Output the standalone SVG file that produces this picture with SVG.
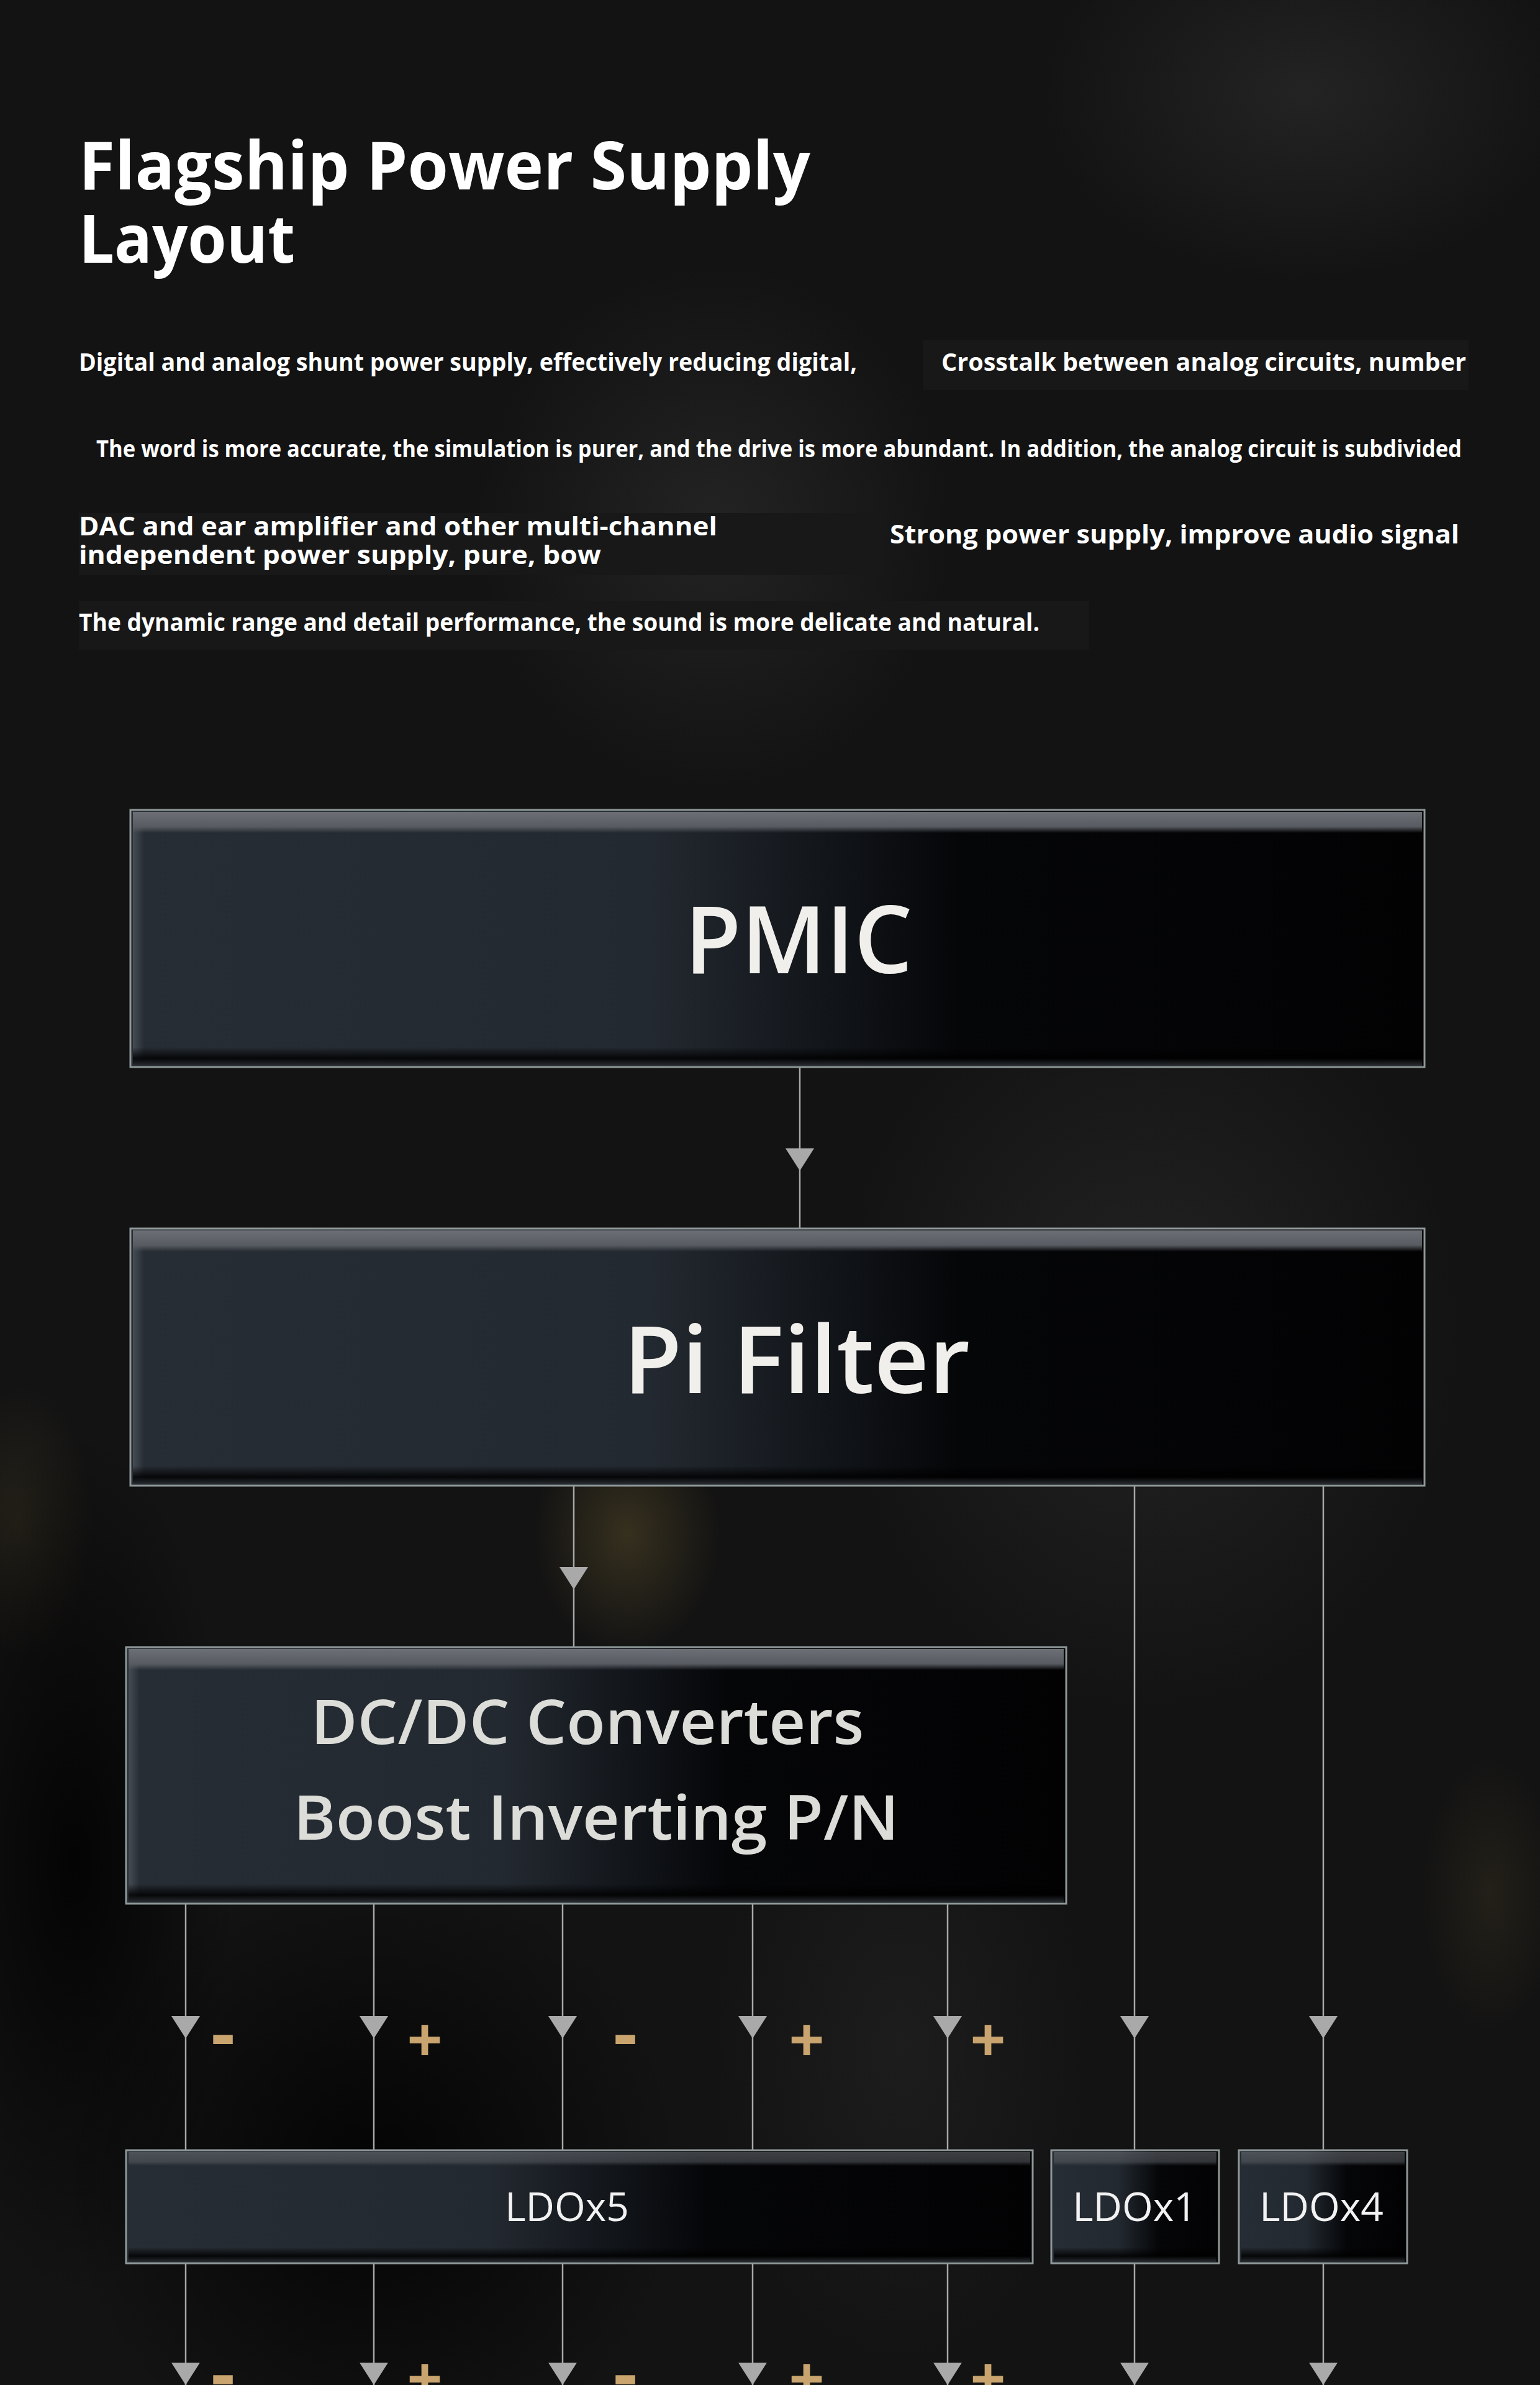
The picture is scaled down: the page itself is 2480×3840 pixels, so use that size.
<svg xmlns="http://www.w3.org/2000/svg" xmlns:xlink="http://www.w3.org/1999/xlink" width="2480" height="3840" viewBox="0 0 2480 3840">
  <defs>
    <style>
      .title { font-family: "Open Sans", "Noto Sans", "Liberation Sans", sans-serif; font-weight: 700; fill: #ffffff; }
      .para { font-family: "Open Sans", "Noto Sans", "Liberation Sans", sans-serif; font-weight: 700; fill: #ffffff; }
      .label { font-family: "Open Sans", "Noto Sans", "Liberation Sans", sans-serif; font-weight: 600; fill: #f1efeb; text-anchor: middle; }
      .label2 { font-family: "Open Sans", "Noto Sans", "Liberation Sans", sans-serif; font-weight: 600; fill: #dcdcd8; text-anchor: middle; }
      .ldo { font-family: "Open Sans", "Noto Sans", "Liberation Sans", sans-serif; font-weight: 400; fill: #f2f2f2; text-anchor: middle; font-size: 64px; }
      .sign { font-family: "Open Sans", "Noto Sans", "Liberation Sans", sans-serif; font-weight: 700; fill: #c9a46e; text-anchor: middle; }
      .wire { stroke: #a8a8a8; stroke-width: 2.5; fill: none; }
      .frame { fill: none; stroke: #8f9898; stroke-width: 3; }
      .txtbox { fill: #181818; }
    </style>
    <linearGradient id="boxFill" x1="0" y1="0" x2="1" y2="0">
      <stop offset="0" stop-color="#272d34"/>
      <stop offset="0.4" stop-color="#232930"/>
      <stop offset="0.52" stop-color="#14181d"/>
      <stop offset="0.64" stop-color="#050608"/>
      <stop offset="1" stop-color="#020203"/>
    </linearGradient>
    <linearGradient id="bevelTop" x1="0" y1="0" x2="0" y2="1">
      <stop offset="0" stop-color="#6c7076"/>
      <stop offset="0.7" stop-color="#585c62"/>
      <stop offset="1" stop-color="#585c62" stop-opacity="0"/>
    </linearGradient>
    <linearGradient id="bevelLeft" x1="0" y1="0" x2="1" y2="0">
      <stop offset="0" stop-color="#4a5058" stop-opacity="0.9"/>
      <stop offset="1" stop-color="#4a5058" stop-opacity="0"/>
    </linearGradient>
    <linearGradient id="bevelBot" x1="0" y1="0" x2="0" y2="1">
      <stop offset="0" stop-color="#000000" stop-opacity="0"/>
      <stop offset="0.6" stop-color="#000000" stop-opacity="0.85"/>
      <stop offset="1" stop-color="#2a2e33"/>
    </linearGradient>
    <radialGradient id="glowGold" cx="0.5" cy="0.5" r="0.5">
      <stop offset="0" stop-color="#3c3520" stop-opacity="0.85"/>
      <stop offset="1" stop-color="#3c3520" stop-opacity="0"/>
    </radialGradient>
    <radialGradient id="glowGray" cx="0.5" cy="0.5" r="0.5">
      <stop offset="0" stop-color="#2a2a2a" stop-opacity="0.7"/>
      <stop offset="1" stop-color="#2a2a2a" stop-opacity="0"/>
    </radialGradient>
    <radialGradient id="glowDark" cx="0.5" cy="0.5" r="0.5">
      <stop offset="0" stop-color="#000000" stop-opacity="0.8"/>
      <stop offset="1" stop-color="#000000" stop-opacity="0"/>
    </radialGradient>
    <path id="ah" d="M-23,0 L23,0 L0,36 Z" fill="#a9a9a9"/>
  </defs>

  <!-- background -->
  <rect x="0" y="0" width="2480" height="3840" fill="#131313"/>
  <g id="background-texture">
    <ellipse cx="2100" cy="150" rx="420" ry="300" fill="url(#glowGray)"/>
    <ellipse cx="1150" cy="850" rx="380" ry="420" fill="url(#glowGray)"/>
    <ellipse cx="1850" cy="2150" rx="500" ry="600" fill="url(#glowGray)"/>
    <ellipse cx="1010" cy="2470" rx="150" ry="190" fill="url(#glowGold)"/>
    <ellipse cx="30" cy="2450" rx="120" ry="220" fill="url(#glowGold)" opacity="0.5"/>
    <ellipse cx="2400" cy="3050" rx="110" ry="220" fill="url(#glowGold)" opacity="0.45"/>
    <ellipse cx="120" cy="3000" rx="260" ry="700" fill="url(#glowDark)"/>
    <ellipse cx="600" cy="3500" rx="500" ry="500" fill="url(#glowDark)"/>
    <ellipse cx="1450" cy="3300" rx="300" ry="500" fill="url(#glowGray)" opacity="0.6"/>
  </g>

  <!-- heading and copy -->
  <g id="title">
    <text class="title" x="127" y="305" font-size="108" textLength="1178" lengthAdjust="spacingAndGlyphs">Flagship Power Supply</text>
    <text class="title" x="127" y="423" font-size="108" textLength="348" lengthAdjust="spacingAndGlyphs">Layout</text>
  </g>
  <g id="copy">
    <rect class="txtbox" x="1487" y="548" width="878" height="80"/>
    <rect class="txtbox" x="127" y="826" width="1298" height="100"/>
    <rect class="txtbox" x="127" y="968" width="1627" height="78"/>
    <text class="para" x="127" y="597" font-size="40" textLength="1253" lengthAdjust="spacingAndGlyphs">Digital and analog shunt power supply, effectively reducing digital,</text>
    <text class="para" x="1516" y="597" font-size="40" textLength="845" lengthAdjust="spacingAndGlyphs">Crosstalk between analog circuits, number</text>
    <text class="para" x="155" y="736" font-size="37" textLength="2199" lengthAdjust="spacingAndGlyphs">The word is more accurate, the simulation is purer, and the drive is more abundant. In addition, the analog circuit is subdivided</text>
    <text class="para" x="127" y="862" font-size="42" textLength="1028" lengthAdjust="spacingAndGlyphs">DAC and ear amplifier and other multi-channel</text>
    <text class="para" x="127" y="908" font-size="42" textLength="841" lengthAdjust="spacingAndGlyphs">independent power supply, pure, bow</text>
    <text class="para" x="1433" y="875" font-size="42" textLength="917" lengthAdjust="spacingAndGlyphs">Strong power supply, improve audio signal</text>
    <text class="para" x="127" y="1016" font-size="40" textLength="1547" lengthAdjust="spacingAndGlyphs">The dynamic range and detail performance, the sound is more delicate and natural.</text>
  </g>

  <!-- connectors -->
  <g id="connectors">
    <line class="wire" x1="1288" y1="1719" x2="1288" y2="1978"/>
    <line class="wire" x1="924" y1="2393" x2="924" y2="2652"/>
    <line class="wire" x1="1827" y1="2393" x2="1827" y2="3462"/>
    <line class="wire" x1="2131" y1="2393" x2="2131" y2="3462"/>
    <line class="wire" x1="299" y1="3066" x2="299" y2="3462"/>
    <line class="wire" x1="602" y1="3066" x2="602" y2="3462"/>
    <line class="wire" x1="906" y1="3066" x2="906" y2="3462"/>
    <line class="wire" x1="1212" y1="3066" x2="1212" y2="3462"/>
    <line class="wire" x1="1526" y1="3066" x2="1526" y2="3462"/>
    <line class="wire" x1="299" y1="3645" x2="299" y2="3840"/>
    <line class="wire" x1="602" y1="3645" x2="602" y2="3840"/>
    <line class="wire" x1="906" y1="3645" x2="906" y2="3840"/>
    <line class="wire" x1="1212" y1="3645" x2="1212" y2="3840"/>
    <line class="wire" x1="1526" y1="3645" x2="1526" y2="3840"/>
    <line class="wire" x1="1827" y1="3645" x2="1827" y2="3840"/>
    <line class="wire" x1="2131" y1="3645" x2="2131" y2="3840"/>
    <use xlink:href="#ah" href="#ah" x="1288" y="1849"/>
    <use xlink:href="#ah" href="#ah" x="924" y="2523"/>
    <use xlink:href="#ah" href="#ah" x="299" y="3246"/>
    <use xlink:href="#ah" href="#ah" x="602" y="3246"/>
    <use xlink:href="#ah" href="#ah" x="906" y="3246"/>
    <use xlink:href="#ah" href="#ah" x="1212" y="3246"/>
    <use xlink:href="#ah" href="#ah" x="1526" y="3246"/>
    <use xlink:href="#ah" href="#ah" x="1827" y="3246"/>
    <use xlink:href="#ah" href="#ah" x="2131" y="3246"/>
    <use xlink:href="#ah" href="#ah" x="299" y="3804"/>
    <use xlink:href="#ah" href="#ah" x="602" y="3804"/>
    <use xlink:href="#ah" href="#ah" x="906" y="3804"/>
    <use xlink:href="#ah" href="#ah" x="1212" y="3804"/>
    <use xlink:href="#ah" href="#ah" x="1526" y="3804"/>
    <use xlink:href="#ah" href="#ah" x="1827" y="3804"/>
    <use xlink:href="#ah" href="#ah" x="2131" y="3804"/>
    <!-- polarity signs -->
    <text class="sign" x="359" y="3316" font-size="120">-</text>
    <text class="sign" x="684" y="3320" font-size="100">+</text>
    <text class="sign" x="1007" y="3316" font-size="120">-</text>
    <text class="sign" x="1299" y="3320" font-size="100">+</text>
    <text class="sign" x="1591" y="3320" font-size="100">+</text>
    <text class="sign" x="359" y="3864" font-size="120">-</text>
    <text class="sign" x="684" y="3866" font-size="100">+</text>
    <text class="sign" x="1007" y="3864" font-size="120">-</text>
    <text class="sign" x="1299" y="3866" font-size="100">+</text>
    <text class="sign" x="1591" y="3866" font-size="100">+</text>
  </g>

  <!-- nodes -->
  <g id="node-pmic">
    <rect x="210" y="1304" width="2084" height="414" fill="url(#boxFill)"/>
    <rect x="214" y="1307" width="18" height="400" fill="url(#bevelLeft)"/>
    <rect x="214" y="1307" width="2076" height="34" fill="url(#bevelTop)"/>
    <rect x="214" y="1686" width="2076" height="30" fill="url(#bevelBot)"/>
    <rect class="frame" x="210" y="1304" width="2084" height="414"/>
    <text class="label" x="1286" y="1567" font-size="150" textLength="367" lengthAdjust="spacingAndGlyphs">PMIC</text>
  </g>

  <g id="node-pi-filter">
    <rect x="210" y="1978" width="2084" height="414" fill="url(#boxFill)"/>
    <rect x="214" y="1981" width="18" height="400" fill="url(#bevelLeft)"/>
    <rect x="214" y="1981" width="2076" height="34" fill="url(#bevelTop)"/>
    <rect x="214" y="2360" width="2076" height="30" fill="url(#bevelBot)"/>
    <rect class="frame" x="210" y="1978" width="2084" height="414"/>
    <text class="label" x="1283" y="2243" font-size="150" textLength="558" lengthAdjust="spacingAndGlyphs">Pi Filter</text>
  </g>

  <g id="node-dcdc">
    <rect x="203" y="2652" width="1514" height="413" fill="url(#boxFill)"/>
    <rect x="207" y="2655" width="18" height="400" fill="url(#bevelLeft)"/>
    <rect x="207" y="2655" width="1506" height="34" fill="url(#bevelTop)"/>
    <rect x="207" y="3033" width="1506" height="30" fill="url(#bevelBot)"/>
    <rect class="frame" x="203" y="2652" width="1514" height="413"/>
    <text class="label2" x="946" y="2808" font-size="100" textLength="891" lengthAdjust="spacingAndGlyphs">DC/DC Converters</text>
    <text class="label2" x="960" y="2962" font-size="100" textLength="975" lengthAdjust="spacingAndGlyphs">Boost Inverting P/N</text>
  </g>

  <g id="node-ldox5">
    <rect x="203" y="3462" width="1460" height="182" fill="url(#boxFill)"/>
    <rect x="207" y="3465" width="1452" height="22" fill="url(#bevelTop)" opacity="0.55"/>
    <rect x="207" y="3618" width="1452" height="24" fill="url(#bevelBot)"/>
    <rect class="frame" x="203" y="3462" width="1460" height="182"/>
    <text class="ldo" x="913" y="3576">LDOx5</text>
  </g>

  <g id="node-ldox1">
    <rect x="1693" y="3462" width="270" height="182" fill="url(#boxFill)"/>
    <rect x="1697" y="3465" width="262" height="22" fill="url(#bevelTop)" opacity="0.55"/>
    <rect x="1697" y="3618" width="262" height="24" fill="url(#bevelBot)"/>
    <rect class="frame" x="1693" y="3462" width="270" height="182"/>
    <text class="ldo" x="1827" y="3576">LDOx1</text>
  </g>

  <g id="node-ldox4">
    <rect x="1995" y="3462" width="271" height="182" fill="url(#boxFill)"/>
    <rect x="1999" y="3465" width="263" height="22" fill="url(#bevelTop)" opacity="0.55"/>
    <rect x="1999" y="3618" width="263" height="24" fill="url(#bevelBot)"/>
    <rect class="frame" x="1995" y="3462" width="271" height="182"/>
    <text class="ldo" x="2128" y="3576">LDOx4</text>
  </g>
</svg>
